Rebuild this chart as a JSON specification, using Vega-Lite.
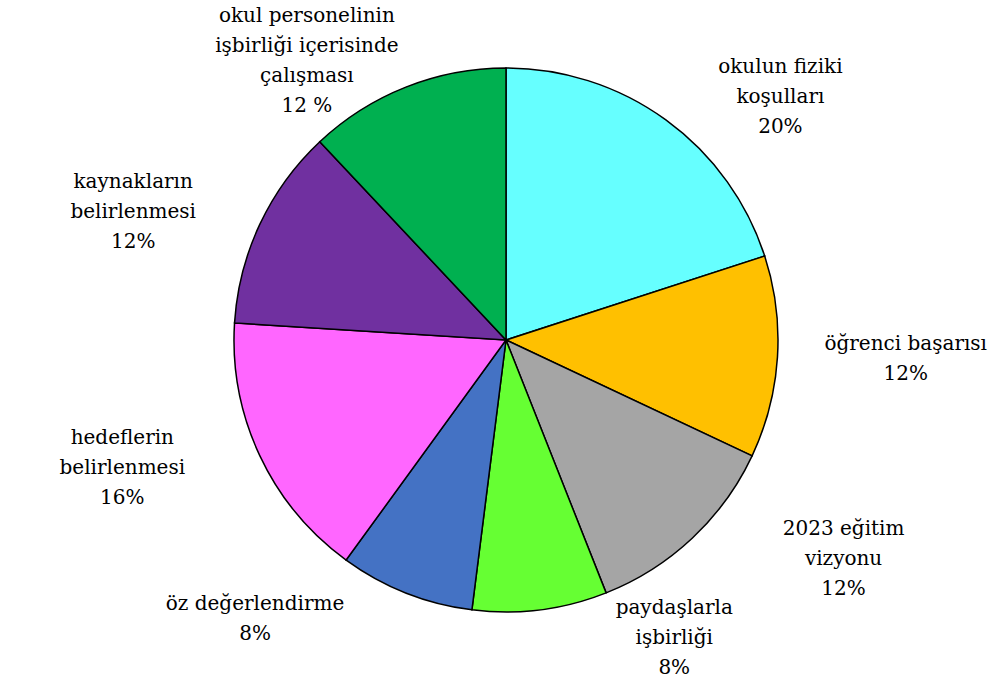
{
  "$schema": "https://vega.github.io/schema/vega-lite/v6.json",
  "width": 978,
  "height": 680,
  "autosize": {"type": "none"},
  "padding": {"left": 17, "top": 0, "right": 0, "bottom": 0},
  "background": "white",
  "config": {"view": {"stroke": null}, "font": "DejaVu Serif"},
  "data": {
    "values": [
      {"i": 1, "name": "okulun fiziki\nkoşulları", "pct": "20%", "value": 20},
      {"i": 2, "name": "öğrenci başarısı", "pct": "12%", "value": 12},
      {"i": 3, "name": "2023 eğitim\nvizyonu", "pct": "12%", "value": 12},
      {"i": 4, "name": "paydaşlarla\nişbirliği", "pct": "8%", "value": 8},
      {"i": 5, "name": "öz değerlendirme", "pct": "8%", "value": 8},
      {"i": 6, "name": "hedeflerin\nbelirlenmesi", "pct": "16%", "value": 16},
      {"i": 7, "name": "kaynakların\nbelirlenmesi", "pct": "12%", "value": 12},
      {"i": 8, "name": "okul personelinin\nişbirliği içerisinde\nçalışması", "pct": "12 %", "value": 12}
    ]
  },
  "layer": [
    {
      "mark": {"type": "arc", "outerRadius": 272, "stroke": "black", "strokeWidth": 1.5},
      "encoding": {
        "theta": {"field": "value", "type": "quantitative", "stack": true},
        "order": {"field": "i", "type": "quantitative"},
        "color": {
          "field": "i",
          "type": "nominal",
          "legend": null,
          "scale": {
            "domain": [1, 2, 3, 4, 5, 6, 7, 8],
            "range": ["#66FFFF", "#FFC000", "#A5A5A5", "#66FF33", "#4472C4", "#FF66FF", "#7030A0", "#00B050"]
          }
        }
      }
    },
    {
      "transform": [
        {"window": [{"op": "sum", "field": "value", "as": "cum"}], "sort": [{"field": "i"}], "frame": [null, 0]},
        {"joinaggregate": [{"op": "sum", "field": "value", "as": "tot"}]},
        {"calculate": "2*PI*(datum.cum - datum.value/2)/datum.tot", "as": "m"},
        {"calculate": "datum.name + '\\n' + datum.pct", "as": "txt"},
        {"calculate": "length(split(datum.txt, '\\n'))", "as": "n"},
        {"calculate": "400*sin(datum.m) + (sin(datum.m) < 0 ? -1 : 1)*(cos(datum.m) > 0 ? 60 : 120)*pow(cos(datum.m), 2)", "as": "lx"},
        {"calculate": "300*cos(datum.m) + (datum.n - 1)*15", "as": "ly"}
      ],
      "mark": {
        "type": "text",
        "font": "DejaVu Serif",
        "fontSize": 20,
        "lineHeight": 30,
        "lineBreak": "\n",
        "align": "center",
        "baseline": "middle",
        "color": "black"
      },
      "encoding": {
        "x": {"field": "lx", "type": "quantitative", "axis": null, "scale": {"domain": [-489, 489], "nice": false, "zero": false}},
        "y": {"field": "ly", "type": "quantitative", "axis": null, "scale": {"domain": [-340, 340], "nice": false, "zero": false}},
        "text": {"field": "txt"}
      }
    }
  ]
}
